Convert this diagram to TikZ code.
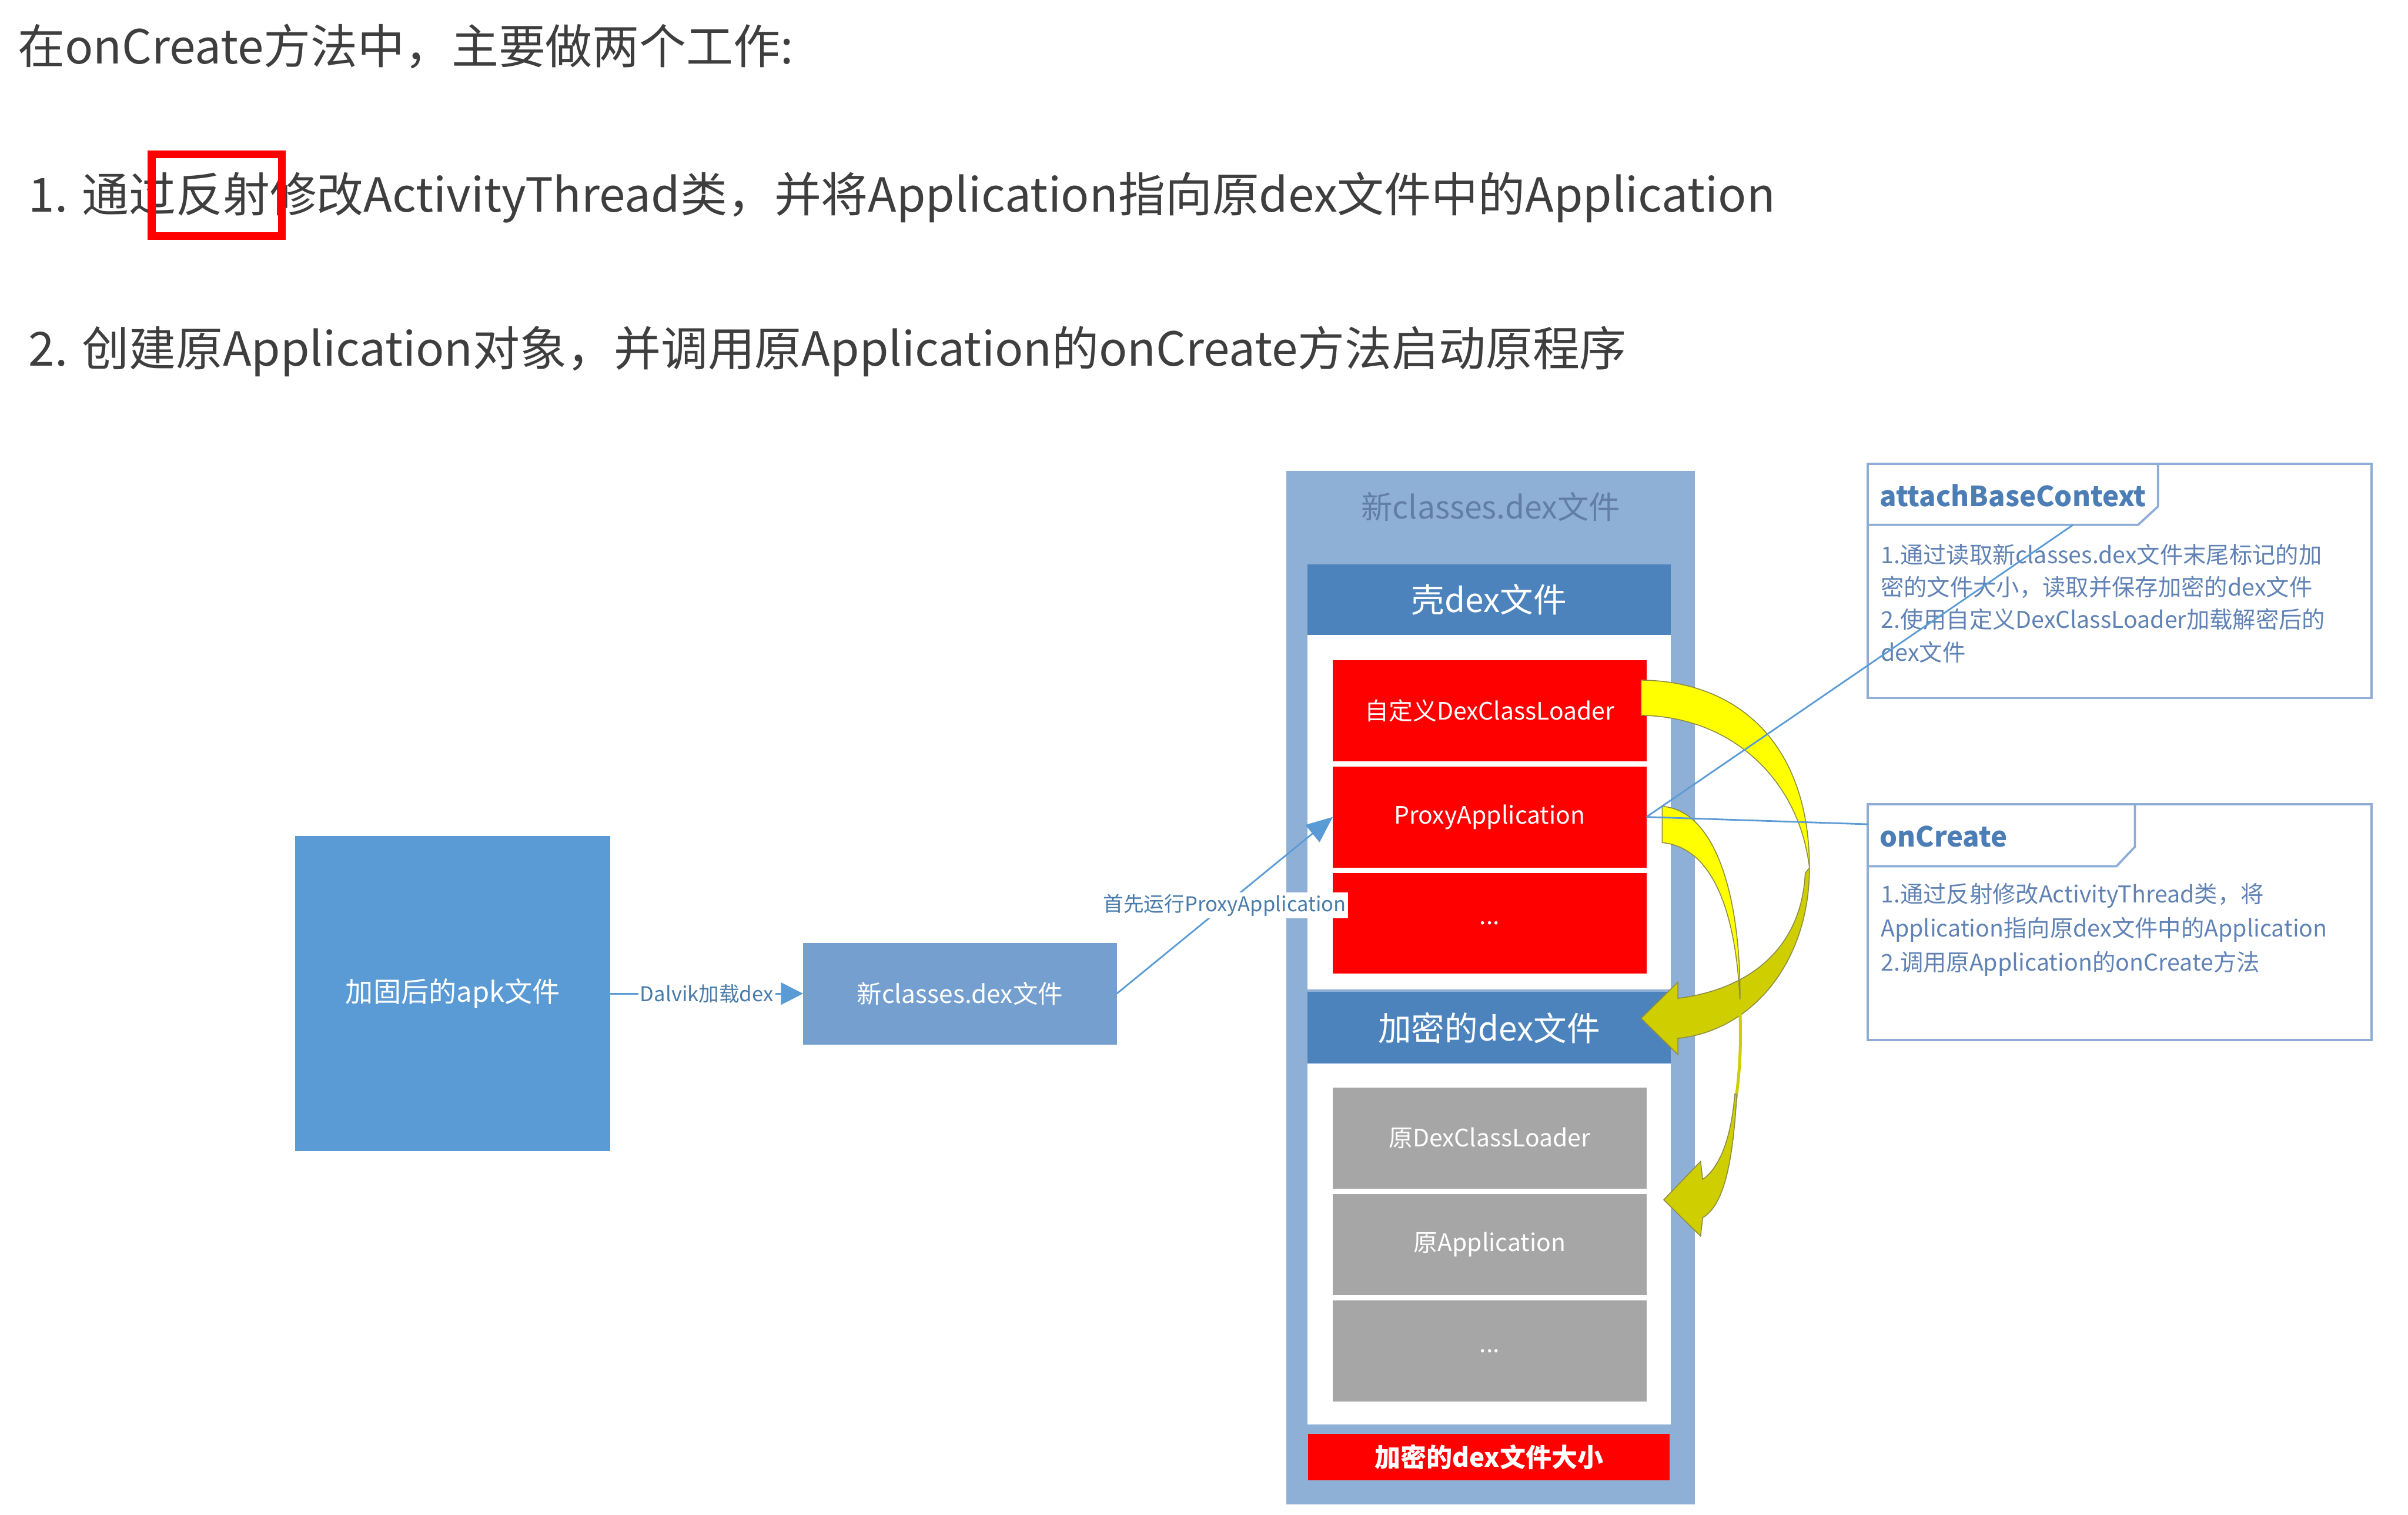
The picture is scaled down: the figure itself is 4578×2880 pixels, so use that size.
\documentclass[tikz,border=0pt]{standalone}
\usepackage{fontspec}
\setmainfont{Noto Sans CJK SC}
\usetikzlibrary{arrows.meta,positioning}
\definecolor{titleInk}{RGB}{62,62,62}
\definecolor{apkBlue}{RGB}{91,155,213}
\definecolor{dexBlue}{RGB}{116,159,206}
\definecolor{frameBlue}{RGB}{143,176,214}
\definecolor{frameInk}{RGB}{98,126,166}
\definecolor{headBlue}{RGB}{77,131,188}
\definecolor{lineBlue}{RGB}{91,155,213}
\definecolor{noteBorder}{RGB}{141,172,214}
\definecolor{noteHead}{RGB}{76,125,181}
\definecolor{noteInk}{RGB}{96,130,180}
\definecolor{plainRed}{RGB}{255,0,0}
\definecolor{stoneGray}{RGB}{166,166,166}
\definecolor{brightYellow}{RGB}{255,255,0}
\definecolor{oliveYellow}{RGB}{206,206,0}
\definecolor{ribbonEdge}{RGB}{140,140,70}
\tikzset{
  boxbase/.style={inner sep=0pt, outer sep=0pt, align=center, text=white},
  apkbox/.style={boxbase, fill=apkBlue, minimum width=5.99cm, minimum height=5.99cm, font=\fontsize{15}{18}\selectfont},
  dexbox/.style={boxbase, fill=dexBlue, minimum width=5.96cm, minimum height=1.93cm, font=\fontsize{13.5}{16}\selectfont},
  framebox/.style={boxbase, fill=frameBlue, minimum width=7.76cm, minimum height=19.64cm},
  headbar/.style={boxbase, fill=headBlue, minimum width=6.9cm, font=\fontsize{18}{20}\selectfont},
  panel/.style={boxbase, fill=white, minimum width=6.9cm},
  redcell/.style={boxbase, fill=plainRed, minimum width=5.96cm, minimum height=1.92cm, font=\fontsize{13}{16}\selectfont},
  graycell/.style={boxbase, fill=stoneGray, minimum width=5.96cm, minimum height=1.92cm, font=\fontsize{13}{16}\selectfont},
  note/.style={draw=noteBorder, line width=1.2pt, fill=white, inner sep=0pt, outer sep=0pt, minimum width=9.57cm},
  notehead/.style={inner sep=0pt, anchor=west, text=noteHead, font=\bfseries\fontsize{15}{18}\selectfont},
  notetext/.style={inner sep=0pt, anchor=north west, align=left, text=noteInk, font=\fontsize{12.5}{17.6}\selectfont},
  tabline/.style={draw=noteBorder, line width=1.2pt},
  titletext/.style={inner sep=0pt, anchor=west, text=titleInk, font=\fontsize{25.4}{30}\selectfont},
  markbox/.style={draw=plainRed, line width=4.2pt, inner sep=0pt},
  link/.style={draw=lineBlue, line width=0.9pt},
  flow/.style={link, -{Triangle[length=0.42cm, width=0.42cm]}},
  tag/.style={fill=white, inner sep=1pt, text=lineBlue!80!black}
}
\begin{document}
\begin{tikzpicture}[x=0.01cm, y=-0.01cm]
  \useasboundingbox (0,0) rectangle (4578,2880);
  \node[titletext] (t1) at (33,88) {在onCreate方法中，主要做两个工作:};
  \node[titletext] (t2) at (54,375) {1. 通过反射修改ActivityThread类，并将Application指向原dex文件中的Application};
  \node[titletext] (t3) at (54,668) {2. 创建原Application对象，并调用原Application的onCreate方法启动原程序};
  \node[markbox, minimum width=2.47cm, minimum height=1.55cm] (mark) at (412,371) {};

  \node[apkbox] (apk) at (861,1889) {加固后的apk文件};
  \node[dexbox] (newdex) at (1825,1889) {新classes.dex文件};
  \draw[flow] (apk) -- node[tag, font=\fontsize{11}{13}\selectfont] {Dalvik加载dex} (newdex);

  \node[framebox] (frame) at (2834,1878) {};
  \node[text=frameInk, font=\fontsize{17}{20}\selectfont] (frametitle) at (2834,963) {新classes.dex文件};
  \node[headbar, minimum height=1.35cm] (shell) at (2831,1140) {壳dex文件};
  \node[panel, minimum height=6.73cm, below=0cm of shell] (shellbody) {};
  \node[redcell] (redA) at (2832,1351) {自定义DexClassLoader};
  \node[redcell, below=0.1cm of redA] (redB) {ProxyApplication};
  \node[redcell, below=0.1cm of redB] (redC) {...};
  \node[headbar, minimum height=1.36cm] (crypt) at (2831,1954) {加密的dex文件};
  \node[panel, minimum height=6.86cm, below=0cm of crypt] (cryptbody) {};
  \node[graycell] (grayA) at (2832,2164) {原DexClassLoader};
  \node[graycell, below=0.1cm of grayA] (grayB) {原Application};
  \node[graycell, below=0.1cm of grayB] (grayC) {...};
  \node[redcell, minimum width=6.87cm, minimum height=0.89cm, font=\bfseries\fontsize{14}{16}\selectfont] (size) at (2831,2770) {加密的dex文件大小};

  \draw[flow, -{Triangle[length=0.5cm, width=0.42cm]}] (newdex.east) -- node[tag, font=\fontsize{11}{13}\selectfont] {首先运行ProxyApplication} (redB.west);

  \node[note, minimum height=4.45cm] (attach) at (4029.5,1104.5) {};
  \draw[tabline] (attach.north west) ++(0,116) -- ++(514,0) -- ++(38,-35) -- ++(0,-81);
  \node[notehead] (attachhead) at (3573,942) {attachBaseContext};
  \node[notetext] (attachtext) at (3575,1033) {1.通过读取新classes.dex文件末尾标记的加\\密的文件大小，读取并保存加密的dex文件\\2.使用自定义DexClassLoader加载解密后的\\dex文件};
  \coordinate (atab) at (3941,998);

  \node[note, minimum height=4.48cm] (oncreate) at (4029.5,1753) {};
  \draw[tabline] (oncreate.north west) ++(0,118) -- ++(473,0) -- ++(35,-37) -- ++(0,-81);
  \node[notehead] (oncreatehead) at (3573,1590) {onCreate};
  \node[notetext, font=\fontsize{12.5}{18.5}\selectfont] (oncreatetext) at (3575,1678) {1.通过反射修改ActivityThread类，将\\Application指向原dex文件中的Application\\2.调用原Application的onCreate方法};
  \coordinate (otab) at (3551,1567);

  \fill[brightYellow, draw=ribbonEdge, line width=0.5pt] (3120,1293) .. controls (3310,1295) and (3440,1420) .. (3440,1650) .. controls (3420,1480) and (3290,1362) .. (3120,1360) -- cycle;
  \fill[oliveYellow, draw=ribbonEdge, line width=0.5pt] (3440,1650) .. controls (3440,1830) and (3330,1960) .. (3190,1974) -- (3190,2005) -- (3120,1936) -- (3190,1867) -- (3190,1898) .. controls (3330,1880) and (3425,1800) .. (3432,1660) -- cycle;
  \fill[brightYellow, draw=ribbonEdge, line width=0.5pt] (3160,1533) .. controls (3260,1540) and (3310,1700) .. (3308,1905) .. controls (3300,1720) and (3250,1610) .. (3160,1602) -- cycle;
  \draw[oliveYellow, line width=1.6pt] (3307,1900) .. controls (3312,1990) and (3306,2050) .. (3300,2090);
  \fill[oliveYellow, draw=ribbonEdge, line width=0.5pt] (3302,2080) .. controls (3295,2200) and (3280,2290) .. (3237,2315) -- (3233,2350) -- (3163,2281) -- (3233,2208) -- (3237,2242) .. controls (3270,2220) and (3292,2160) .. (3298,2080) -- cycle;

  \draw[link] (redB.east) -- (atab);
  \draw[link] (redB.east) -- (otab);
\end{tikzpicture}
\end{document}
